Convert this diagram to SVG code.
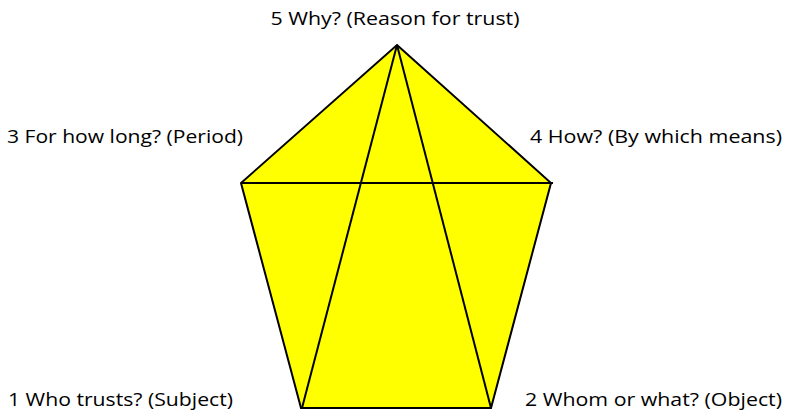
<svg xmlns="http://www.w3.org/2000/svg" width="788" height="412" viewBox="0 0 788 412">
<style>
.lbl{font-family:"Open Sans","Liberation Sans",Arial,sans-serif;font-size:19px;fill:#000}
.ln{stroke:#000;stroke-width:2;fill:none}
</style>
<rect width="788" height="412" fill="#fff"/>
<g id="pentagon">
<polygon points="397,45 551,183 491,408 301,408 241,183" fill="#ffff00" stroke="#000" stroke-width="2" stroke-linejoin="miter"/>
</g>
<g id="connectors">
<line class="ln" x1="241" y1="183" x2="553" y2="183"/>
<line class="ln" x1="397" y1="45" x2="302" y2="408"/>
<line class="ln" x1="397" y1="45" x2="491" y2="408"/>
</g>
<g id="n5"><text class="lbl" x="395" y="25" text-anchor="middle" textLength="249" lengthAdjust="spacingAndGlyphs">5 Why? (Reason for trust)</text></g>
<g id="n3"><text class="lbl" x="7" y="143" textLength="236" lengthAdjust="spacingAndGlyphs">3 For how long? (Period)</text></g>
<g id="n4"><text class="lbl" x="530" y="143" textLength="252" lengthAdjust="spacingAndGlyphs">4 How? (By which means)</text></g>
<g id="n1"><text class="lbl" x="8" y="406" textLength="225" lengthAdjust="spacingAndGlyphs">1 Who trusts? (Subject)</text></g>
<g id="n2"><text class="lbl" x="525" y="406" textLength="257" lengthAdjust="spacingAndGlyphs">2 Whom or what? (Object)</text></g>
</svg>
